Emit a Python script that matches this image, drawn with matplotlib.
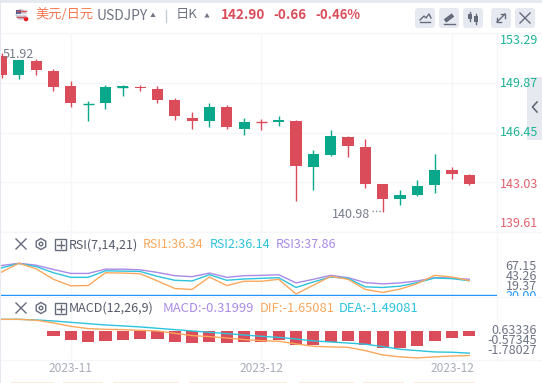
import matplotlib
matplotlib.use('Agg')
import matplotlib.pyplot as plt
from matplotlib.patches import Rectangle, FancyBboxPatch, Circle, RegularPolygon
import numpy as np

plt.rcParams['font.family'] = ['Noto Sans CJK SC', 'DejaVu Sans']

# candles
opens = [151.72, 150.37, 151.38, 150.69, 149.67, 148.39, 148.46, 149.55, 149.60, 149.46,
         148.71, 147.48, 147.27, 148.23, 146.72, 147.20, 147.20, 147.27, 144.06, 144.88,
         146.11, 145.43, 142.89, 141.87, 142.14, 142.83, 143.85, 143.56]
closes = [150.42, 151.44, 150.76, 149.60, 148.46, 148.43, 149.60, 149.62, 149.48, 148.71,
          147.57, 147.27, 148.23, 146.86, 147.20, 147.15, 147.34, 144.12, 144.95, 146.18,
          145.49, 142.89, 141.87, 142.14, 142.76, 143.85, 143.58, 142.90]
highs = [151.92, 151.44, 151.49, 150.83, 150.01, 148.64, 149.73, 149.73, 149.73, 149.67,
         148.85, 147.89, 148.50, 148.37, 147.48, 147.41, 147.55, 147.34, 145.22, 146.59,
         146.18, 145.97, 142.89, 142.48, 143.17, 144.95, 144.06, 143.58]
lows = [150.21, 150.10, 150.37, 149.28, 148.18, 147.22, 148.05, 148.93, 149.28, 148.50,
        147.34, 146.72, 146.86, 146.66, 146.25, 146.59, 146.93, 141.73, 142.48, 144.81,
        144.74, 142.62, 140.98, 141.46, 142.07, 142.28, 143.24, 142.83]

rsi1 = [46.27, 56.62, 50.10, 37.83, 30.17, 30.55, 45.50, 45.12, 44.35, 35.92, 27.10, 25.95, 40.52, 30.55,
        35.54, 35.54, 37.83, 20.59, 30.94, 41.29, 37.83, 25.95, 22.50, 26.34, 32.85, 42.43, 40.52, 36.34]
rsi2 = [51.25, 56.23, 52.78, 45.50, 40.14, 40.14, 47.80, 47.42, 47.03, 41.29, 36.69, 35.92, 43.20, 36.69,
        38.22, 38.98, 39.75, 28.25, 34.77, 40.52, 38.98, 29.02, 28.25, 29.79, 34.00, 39.37, 38.60, 36.14]
rsi3 = [53.93, 56.62, 54.32, 49.33, 44.73, 44.73, 49.72, 49.72, 48.95, 45.88, 42.05, 40.90, 45.12, 40.14,
        42.05, 42.43, 43.20, 33.62, 37.83, 42.43, 39.75, 34.00, 32.47, 33.62, 35.92, 39.75, 39.37, 37.86]

macd = [-0.03, 0.03, -0.03, -0.34, -0.60, -0.74, -0.67, -0.60, -0.54, -0.54, -0.74, -0.81, -0.74, -0.81,
        -0.74, -0.72, -0.60, -0.94, -0.94, -0.74, -0.67, -0.94, -1.14, -1.14, -1.01, -0.67, -0.47, -0.32]
dif = [0.78, 0.78, 0.72, 0.54, 0.31, 0.16, 0.11, 0.09, 0.04, 0.0, -0.16, -0.31, -0.38, -0.47,
       -0.58, -0.65, -0.69, -0.87, -1.03, -1.07, -1.10, -1.32, -1.61, -1.74, -1.81, -1.74, -1.68, -1.65]
dea = [0.78, 0.78, 0.74, 0.67, 0.58, 0.49, 0.40, 0.34, 0.27, 0.18, 0.09, 0.0, -0.09, -0.18,
       -0.27, -0.36, -0.43, -0.54, -0.67, -0.74, -0.81, -0.89, -1.05, -1.23, -1.32, -1.41, -1.43, -1.49]

price_ticks = [139.61, 143.03, 146.45, 149.87, 153.29]
date_pos = [4, 15, 26]
date_labels = ['2023-11', '2023-12', '2023-12']

W, H = 542, 383
GREEN = '#0aa88a'
RED = '#db4c5a'
GRID = '#f5f6f9'
ORANGE = '#fba85c'
BLUE = '#2cc4dc'
PURPLE = '#a98ae8'
GREY = '#6f7485'
LINE20 = '#1e96ff'


def panel(y0, y1):
    a = fig.add_axes([1 / W, 1 - y1 / H, 496 / W, (y1 - y0) / H])
    a.set_xlim(-0.03, 28.6)
    a.patch.set_alpha(0)
    for s in a.spines.values():
        s.set_visible(False)
    a.tick_params(length=0, labelleft=False, labelbottom=False)
    a.set_xticks(date_pos)
    a.grid(True, color=GRID, lw=1)
    a.set_axisbelow(True)
    return a


fig = plt.figure(figsize=(W / 100, H / 100), dpi=100, facecolor='white')

# everything that is not data goes in a pixel-sized overlay
bg = fig.add_axes([0, 0, 1, 1])
bg.set_xlim(0, W)
bg.set_ylim(H, 0)
bg.axis('off')
bg.add_patch(Rectangle((0, 0), W, 2.5, color='#e6e9f0', lw=0))
bg.add_patch(Rectangle((0, 0), 1, H, color='#e6e9f0', lw=0))
bg.plot([1, W], [32.5, 32.5], color=GRID, lw=1)
bg.plot([497, 497], [33, 360], color=GRID, lw=1)
bg.plot([1, W], [232, 232], color=GRID, lw=1)
bg.plot([1, W], [296.5, 296.5], color=GRID, lw=1)
bg.plot([1, W], [360, 360], color=GRID, lw=1)

# candles
ax = panel(33, 232)
ax.set_ylim(139.61, 153.22)
ax.set_yticks(price_ticks)
x = np.arange(len(opens))
colors = [GREEN if c >= o else RED for o, c in zip(opens, closes)]
ax.vlines(x, lows, highs, colors=colors, lw=1)
ax.bar(x, np.array(closes) - np.array(opens), bottom=opens, width=0.64, color=colors, lw=0)
for i, (o, c) in enumerate(zip(opens, closes)):
    if abs(o - c) < 0.1:
        ax.hlines((o + c) / 2, i - 0.32, i + 0.32, color=colors[i], lw=1)

# RSI
ax2 = panel(232, 296)
ax2.set_ylim(18.3, 93.2)
ax2.set_yticks([])
ax2.axhline(20, color=LINE20, lw=1)
ax2.plot(x, rsi3, color=PURPLE, lw=1)
ax2.plot(x, rsi2, color=BLUE, lw=1)
ax2.plot(x, rsi1, color=ORANGE, lw=1)

# MACD
ax3 = panel(297, 360)
ax3.set_ylim(-1.95, 2.28)
ax3.set_yticks([])
ax3.bar(x, macd, width=0.7, color=[GREEN if m > 0 else RED for m in macd], lw=0)
ax3.plot(x, dea, color=BLUE, lw=1)
ax3.plot(x, dif, color=ORANGE, lw=1)

# overlay on top
top = fig.add_axes([0, 0, 1, 1])
top.set_xlim(0, W)
top.set_ylim(H, 0)
top.axis('off')
top.patch.set_alpha(0)


def t(px, py, s, color=GREY, size=9, ha='left', **kw):
    return top.text(px, py, s, color=color, fontsize=size, ha=ha, va='center', **kw)


def caret(px, py):
    top.add_patch(RegularPolygon((px, py), 3, radius=3, orientation=np.pi, color='#6f7485', lw=0))


# header
top.add_patch(Circle((21, 14.5), 5.5, color='#c9cdd8', lw=0))
for yy, cc in [(11, '#d8505a'), (14, '#f0f0f0'), (17, '#d8505a')]:
    top.plot([17, 26], [yy, yy], color=cc, lw=1)
top.add_patch(Rectangle((15.5, 9.5), 5, 4.5, color='#4a5a90', lw=0))
top.add_patch(Circle((26, 19), 2.3, color='#f01818', lw=0))
t(35, 15, '美元/日元', color='#f57a52', size=9.5)
t(97, 16, 'USDJPY', size=10)
caret(153, 15.5)
top.plot([166, 166], [10, 22], color='#c8ccd6', lw=1)
t(176, 14.5, '日K', size=9.5)
caret(207, 16)
t(221, 15, '142.90', color=RED, size=9.7, fontweight='bold')
t(273, 15, '-0.66', color=RED, size=9.7, fontweight='bold')
t(315, 15, '-0.46%', color=RED, size=9.5, fontweight='bold')

# buttons
for bx in [415, 439, 463, 491, 515]:
    top.add_patch(FancyBboxPatch((bx + 2, 10), 16, 16, boxstyle='round,pad=2,rounding_size=3',
                                 color='#e6e9f0', lw=0))
IC = '#666b7c'
top.plot([420, 424, 426, 429, 431], [20, 16, 18, 14, 18], color=IC, lw=1)  # line icon
top.plot([420, 430], [22, 22], color=IC, lw=1)
top.plot([445, 453], [21, 15], color=IC, lw=3, solid_capstyle='butt')  # pencil
top.plot([444, 455], [23.5, 23.5], color=IC, lw=1)
for cx, y0, y1, b0, b1 in [(470, 12, 21, 14, 19), (476, 14, 24, 16, 22)]:  # candles icon
    top.plot([cx, cx], [y0, y1], color=IC, lw=1)
    top.add_patch(Rectangle((cx - 2, b0), 4, b1 - b0, color=IC, lw=0))
top.plot([497, 505], [22, 14], color=IC, lw=1)  # expand
top.plot([501, 505, 505], [14, 14, 18], color=IC, lw=1)
top.plot([497, 497, 501], [18, 22, 22], color=IC, lw=1)
top.plot([520, 530], [13, 23], color=IC, lw=1)  # close
top.plot([520, 530], [23, 13], color=IC, lw=1)

# side tab
top.add_patch(Rectangle((527, 77), 15, 63, color='#e6e9f0', lw=0))
top.plot([537, 532.5, 537], [102, 107, 112], color=IC, lw=1.2)

# price axis labels
for py, s, c in [(40, '153.29', '#1cb496'), (83.5, '149.87', '#1cb496'), (133, '146.45', '#1cb496'),
                 (184, '143.03', '#e0606c'), (223.5, '139.61', '#e0606c')]:
    t(538, py, s, color=c, ha='right')
t(3, 54, '51.92', color='#777c8c')
t(331.5, 214.5, '140.98', color='#777c8c')
top.plot([372, 382], [211, 211], color='#8a8e9c', lw=1, ls=(0, (1, 1.5)))


def tools(py):
    top.plot([16, 26], [py - 5, py + 5], color=IC, lw=1)
    top.plot([16, 26], [py + 5, py - 5], color=IC, lw=1)
    top.add_patch(RegularPolygon((41, py), 6, radius=5.5, fill=False, ec=IC, lw=1))
    top.add_patch(Circle((41, py), 1.8, fill=False, ec=IC, lw=1))
    top.add_patch(Rectangle((55, py - 5), 11, 11, fill=False, ec=IC, lw=1))
    top.plot([60.5, 60.5], [py - 3, py + 4], color=IC, lw=1)
    top.plot([57, 64], [py + 0.5, py + 0.5], color=IC, lw=1)


# RSI header
tools(244)
t(69, 245, 'RSI(7,14,21)', color='#555a6a')
t(143, 245, 'RSI1:36.34', color=ORANGE)
t(210, 245, 'RSI2:36.14', color=BLUE)
t(276, 245, 'RSI3:37.86', color=PURPLE)
for py, s in [(266.5, '67.15'), (276.5, '43.26'), (287, '19.37')]:
    t(537, py, s, ha='right')
blue_lbl = t(537, 296, '20.00', color=LINE20, ha='right')
blue_lbl.set_clip_on(True)
blue_lbl.set_clip_box(None)
blue_lbl.set_clip_path(Rectangle((497, 233), 45, 63, transform=top.transData))

# MACD header
tools(308)
t(69, 308, 'MACD(12,26,9)', color='#555a6a')
t(163, 308, 'MACD:-0.31999', color=PURPLE, size=9.4)
t(260, 308, 'DIF:-1.65081', color=ORANGE, size=9.3)
t(339, 308, 'DEA:-1.49081', color=BLUE, size=9.3)
for py, s in [(330, '0.63336'), (340.5, '-0.57345'), (351, '-1.78027')]:
    t(537, py, s, ha='right')

# date labels
for i, s in zip(date_pos, date_labels):
    top.text(1.5 + 17.33 * i, 369, s, color='#a9adba', fontsize=8.6, ha='center', va='center')

# clipped strip at bottom edge
for a, b in [(11, 53), (63, 102), (113, 178), (189, 286), (299, 353), (363, 403), (414, 474)]:
    top.plot([a, b], [382.6, 382.6], color='#e5a54f', lw=1)

fig.savefig('out.png', dpi=100)
